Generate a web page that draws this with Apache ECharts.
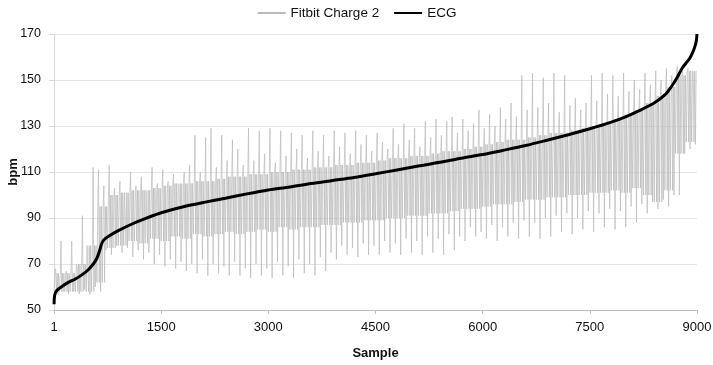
<!DOCTYPE html>
<html>
<head>
<meta charset="utf-8">
<script src="https://cdn.jsdelivr.net/npm/echarts@6/dist/echarts.min.js"></script>
<style>
  html, body { margin: 0; padding: 0; background: #fff; }
  #chart { width: 713px; height: 365px; }
</style>
</head>
<body>
<div id="chart"></div>
<script>
// Fitbit dense band, one low/high pair per 150 samples
var binSize = 150;
var fitbitLow = [58,58,58,58,62,77,78,80,79,81,80,82,81,83,82,83,84,83,84,85,84,86,85,86,86,87,87,88,88,89,
                 89,90,90,91,91,92,92,93,94,94,95,96,96,97,98,98,99,99,100,100,101,101,102,101,103,100,97,102,118,123];
var fitbitHigh = [66,66,70,78,95,100,101,102,102,103,104,105,105,106,106,107,108,108,109,109,110,110,111,111,112,112,113,113,114,114,
                  115,116,116,117,117,118,119,119,120,121,122,123,124,124,125,126,127,127,128,129,130,131,133,135,137,140,143,147,152,154];

// Fitbit single readings that stick out, one peak and one dip per 75 samples
var slotSize = 75;
var fitbitPeaks = [68,80,67,80,69,91,78,112,111,104,113,103,106,101,110,104,108,102,112,105,
                   111,106,109,104,110,113,126,110,125,129,112,126,115,124,120,113,129,115,128,118,
                   129,114,128,117,127,120,126,116,128,119,126,117,128,121,127,118,128,122,126,119,
                   127,123,120,129,122,131,124,129,121,132,125,133,126,132,134,127,133,128,131,137,
                   129,135,130,138,133,140,134,152,137,153,138,151,140,153,136,152,139,142,137,140,
                   152,141,153,144,152,143,153,145,150,146,153,148,154,150,155,152,156,154,155,153];
var fitbitDips = [57,58,57,58,57,59,57,60,58,76,74,78,75,77,73,76,72,75,70,74,
                  69,72,68,71,67,70,66,72,65,70,66,69,65,71,65,68,64,70,65,68,
                  64,71,65,69,64,72,66,70,65,73,67,75,72,78,74,77,73,79,74,78,
                  74,80,75,79,74,81,75,80,74,82,75,81,74,83,76,82,80,86,82,84,
                  81,87,80,86,82,88,81,89,82,88,81,90,82,91,84,92,83,90,85,93,
                  84,92,86,94,85,93,86,95,88,96,92,97,94,98,95,100,100,118,120,122];

// ECG, sorted
var ecgSample = [1,10,40,100,200,300,400,480,550,600,640,670,700,760,900,1100,1300,1500,1800,2100,2400,2700,3000,
  3300,3600,3900,4200,4500,4800,5100,5400,5700,6000,6300,6600,6900,7200,7500,7800,8000,8200,8400,8550,8650,
  8720,8790,8850,8900,8940,8970,8990,9000];
var ecgBpm = [52.5,56.5,58.5,60,62,63.5,65.5,67.5,70,72.5,76,79,80.5,82,84.5,87.5,90,92.3,94.8,96.8,98.6,100.5,102.2,
  103.5,105,106.3,107.6,109.2,110.9,112.6,114.2,116,117.6,119.5,121.5,123.8,126.2,128.8,131.7,134,136.8,140,143.5,147.5,
  151,155,157.5,159.5,162,164.5,167,170];

var chartDom = document.getElementById('chart');
var chart = echarts.init(chartDom, null, { renderer: 'canvas' });

// walk the Fitbit trace slot by slot: band zigzag with a peak and a dip in each slot
function fitbitPoints() {
  var pts = [];
  for (var i = 0; i < fitbitPeaks.length; i++) {
    var b = Math.floor(i * slotSize / binSize);
    var x0 = i * slotSize + 1;
    pts.push([x0, fitbitLow[b]]);
    pts.push([x0 + 12, fitbitHigh[b]]);
    pts.push([x0 + 22, fitbitPeaks[i]]);
    pts.push([x0 + 32, fitbitLow[b]]);
    pts.push([x0 + 42, fitbitHigh[b]]);
    pts.push([x0 + 52, fitbitDips[i]]);
    pts.push([x0 + 62, fitbitHigh[b]]);
  }
  return pts;
}

var ecgPoints = ecgSample.map(function (s, i) { return [s, ecgBpm[i]]; });

var font = 'Liberation Sans, Arial, sans-serif';

var option = {
  backgroundColor: '#ffffff',
  animation: false,
  textStyle: { fontFamily: font },
  legend: {
    top: 1,
    left: 'center',
    itemWidth: 28,
    itemHeight: 12,
    itemGap: 14,
    itemStyle: { opacity: 0 },
    textStyle: { fontSize: 13.5, color: '#111', fontFamily: font },
    data: ['Fitbit Charge 2', 'ECG']
  },
  grid: { left: 54, right: 16, top: 34, bottom: 55, containLabel: false, outerBoundsMode: 'none' },
  xAxis: {
    type: 'value',
    min: 0,
    max: 9000,
    interval: 1500,
    name: 'Sample',
    nameLocation: 'middle',
    nameGap: 37,
    nameMoveOverlap: false,
    nameTextStyle: { fontWeight: 'bold', fontSize: 13, color: '#111' },
    axisLine: { lineStyle: { color: '#bfbfbf' } },
    axisTick: { show: true, length: 4, lineStyle: { color: '#bfbfbf' } },
    axisLabel: {
      color: '#111', fontSize: 13, margin: 11,
      formatter: function (v) { return v === 0 ? '1' : String(v); }
    },
    splitLine: { show: false }
  },
  yAxis: {
    type: 'value',
    min: 50,
    max: 170,
    interval: 20,
    name: 'bpm',
    nameLocation: 'middle',
    nameGap: 34,
    nameMoveOverlap: false,
    nameTextStyle: { fontWeight: 'bold', fontSize: 13, color: '#111' },
    axisLine: { show: true, lineStyle: { color: '#d9d9d9' } },
    axisTick: { show: true, length: 5, lineStyle: { color: '#d9d9d9' } },
    axisLabel: { color: '#111', fontSize: 12.5, margin: 13 },
    splitLine: { lineStyle: { color: '#e6e6e6' } }
  },
  series: [
    {
      name: 'Fitbit Charge 2',
      type: 'line',
      symbol: 'none',
      data: fitbitPoints(),
      lineStyle: { color: '#bababa', width: 0.7 },
      itemStyle: { color: '#bababa' },
      silent: true
    },
    {
      name: 'ECG',
      type: 'line',
      symbol: 'none',
      smooth: 0.3,
      data: ecgPoints,
      lineStyle: { color: '#000', width: 3 },
      itemStyle: { color: '#000' },
      z: 5
    }
  ]
};

chart.setOption(option);
</script>
</body>
</html>
